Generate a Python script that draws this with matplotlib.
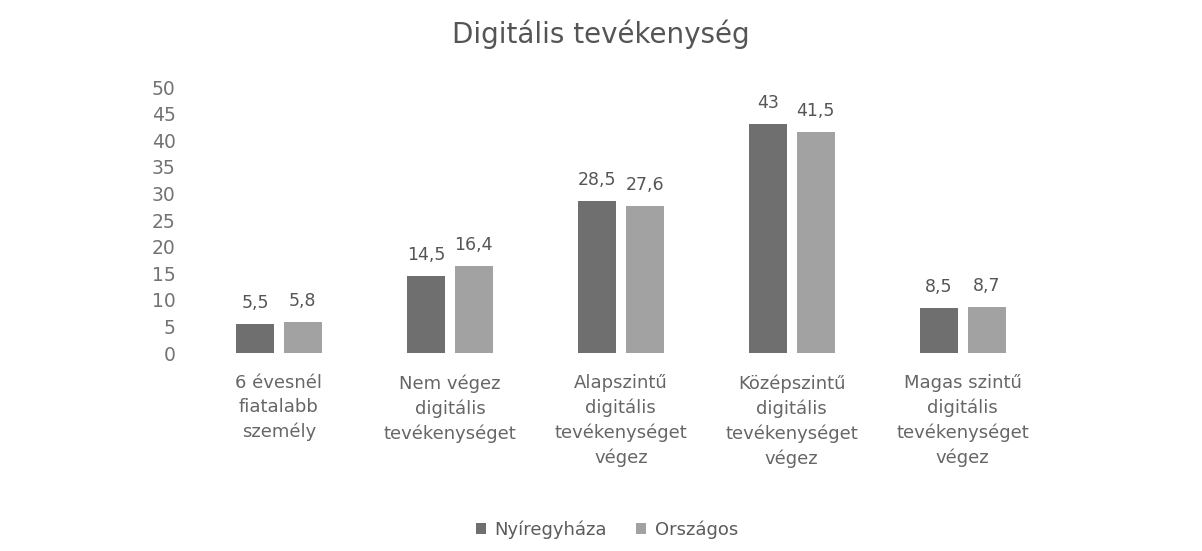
import matplotlib.pyplot as plt
import numpy as np

plt.rcParams['font.family'] = ['DejaVu Sans']

categories = ['6 évesnél\nfiatalabb\nszemély',
              'Nem végez\ndigitális\ntevékenységet',
              'Alapszintű\ndigitális\ntevékenységet\nvégez',
              'Középszintű\ndigitális\ntevékenységet\nvégez',
              'Magas szintű\ndigitális\ntevékenységet\nvégez']
nyiregyhaza = [5.5, 14.5, 28.5, 43, 8.5]
orszagos = [5.8, 16.4, 27.6, 41.5, 8.7]
series_names = ['Nyíregyháza', 'Országos']

fig = plt.figure(figsize=(12.02, 5.51), dpi=100)
ax = fig.add_axes([0.161, 0.359, 0.711, 0.483])

x = np.arange(len(categories))
w = 0.222
gap = 0.058
b1 = ax.bar(x - (w + gap) / 2, nyiregyhaza, w, color='#6f6f6f', label=series_names[0])
b2 = ax.bar(x + (w + gap) / 2, orszagos, w, color='#a2a2a2', label=series_names[1])

# value labels above each bar, decimal comma
for bars, vals in ((b1, nyiregyhaza), (b2, orszagos)):
    for rect, v in zip(bars, vals):
        txt = ('%g' % v).replace('.', ',')
        ax.text(rect.get_x() + rect.get_width() / 2, v + 2.3, txt,
                ha='center', va='bottom', fontsize=12.5, color='#555555')

ax.set_xlim(-0.5, len(categories) - 0.5)
ax.set_ylim(0, 50)
ax.set_yticks(range(0, 51, 5))
ax.set_xticks(x)
ax.set_xticklabels(categories, fontsize=13, color='#666666', linespacing=1.45)
ax.tick_params(axis='y', labelsize=13.5, colors='#737373', length=0, pad=13)
ax.tick_params(axis='x', length=0, pad=15)
for s in ax.spines.values():
    s.set_visible(False)

fig.text(0.5, 0.937, 'Digitális tevékenység', ha='center', va='center',
         fontsize=20, color='#555555')

fig.legend(loc='center', bbox_to_anchor=(0.505, 0.038), ncol=2, frameon=False,
           fontsize=13, handlelength=0.55, handleheight=0.55, columnspacing=1.6,
           handletextpad=0.5, labelcolor='#5c5c5c')

plt.savefig('out.png', dpi=100)
